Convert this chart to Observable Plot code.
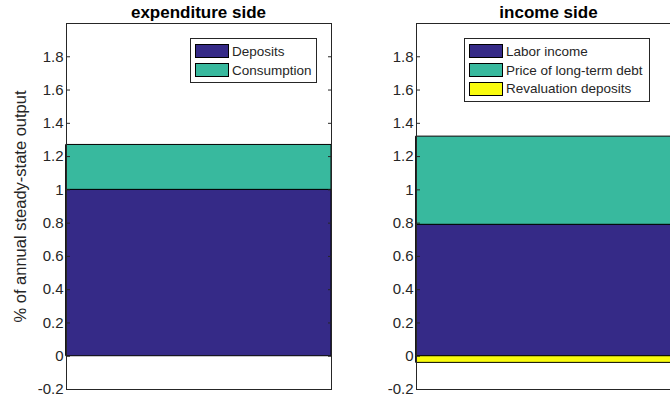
<!DOCTYPE html>
<html>
<head>
<meta charset="utf-8">
<script src="https://cdn.jsdelivr.net/npm/d3@7"></script>
<script src="https://cdn.jsdelivr.net/npm/@observablehq/plot@0.6"></script>
<style>
  html, body { margin: 0; padding: 0; background: #fff; }
  #wrap { position: relative; width: 670px; height: 400px; overflow: hidden; font-family: "Liberation Sans", Arial, Helvetica, sans-serif; color: #262626; }
  .panel { position: absolute; top: 0; width: 340px; height: 400px; }
  .panel svg { max-width: none !important; width: 340px !important; height: 400px !important; }
  .title { position: absolute; top: 3px; font-weight: bold; font-size: 17px; color: #000; text-align: center; white-space: nowrap; }
  .legend { position: absolute; background: #fff; border: 1px solid #262626; box-sizing: border-box; padding: 3px 4px; font-size: 13.5px; }
  .legend .row { display: flex; align-items: center; height: 18.7px; white-space: nowrap; }
  .legend .sw { width: 34px; height: 14px; border: 1px solid #000; box-sizing: border-box; margin-right: 3px; flex: none; }
</style>
</head>
<body>
<div id="wrap"></div>
<script>
// ---- data ----
const periods = [1, 40];
const expSeries = ["Deposits", "Consumption"];
const depositsVals = [1.0, 1.0];
const consumptionVals = [0.27, 0.27];
const incSeries = ["Labor income", "Price of long-term debt", "Revaluation deposits"];
const laborVals = [0.79, 0.79];
const priceVals = [0.53, 0.53];
const revalVals = [-0.04, -0.04];
const seriesColors = ["#352a87", "#38b99e", "#f9fb0e"];
const yTicks = [-0.2, 0, 0.2, 0.4, 0.6, 0.8, 1, 1.2, 1.4, 1.6, 1.8];
const yTickLabels = ["-0.2", "0", "0.2", "0.4", "0.6", "0.8", "1", "1.2", "1.4", "1.6", "1.8"];
const panelTitles = ["expenditure side", "income side"];
const yLabel = "% of annual steady-state output";

function tidy(names, valueArrays) {
  const rows = [];
  names.forEach((name, i) => {
    periods.forEach((p, j) => rows.push({series: name, x: p, value: valueArrays[i][j]}));
  });
  return rows;
}
const expData = tidy(expSeries, [depositsVals, consumptionVals]);
const incData = tidy(incSeries, [laborVals, priceVals, revalVals]);

const W = 340, H = 400;
const M = {left: 66, right: 9, top: 23, bottom: 11};
const tickFmt = d => yTickLabels[yTicks.findIndex(t => Math.abs(t - d) < 1e-9)] ?? "";

function makePanel(data, names, showLabel) {
  return Plot.plot({
    width: W, height: H,
    marginLeft: M.left, marginRight: M.right, marginTop: M.top, marginBottom: M.bottom,
    style: {fontFamily: "'Liberation Sans', Arial, Helvetica, sans-serif", fontSize: "15px", color: "#262626", background: "transparent", maxWidth: "none"},
    x: {domain: [periods[0], periods[periods.length - 1]], axis: null},
    y: {domain: [-0.2, 2.0], ticks: yTicks},
    color: {domain: names, range: seriesColors.slice(0, names.length)},
    marks: [
      Plot.areaY(data, {x: "x", y: "value", fill: "series", z: "series", stroke: "#000", strokeWidth: 1, order: names}),
      Plot.axisY({anchor: "left", ticks: yTicks, tickSize: -4, tickPadding: 7, tickFormat: tickFmt, fontSize: 15,
        stroke: "#262626", fill: "#262626", label: null}),
      ...(showLabel ? [Plot.axisY({anchor: "left", ticks: [], tickSize: 0, label: yLabel, labelAnchor: "center",
        labelArrow: "none", labelOffset: 52, fontSize: 16.5, fill: "#262626"})] : []),
      Plot.axisY({anchor: "right", ticks: yTicks, tickSize: -4, tickFormat: () => "", label: null, stroke: "#262626"}),
      Plot.frame({stroke: "#262626", strokeWidth: 1})
    ]
  });
}

const wrap = document.getElementById("wrap");
const panels = [
  {left: 0, data: expData, names: expSeries, label: true, legend: {left: 190, top: 38, width: 127}},
  {left: 350, data: incData, names: incSeries, label: false, legend: {left: 464, top: 38, width: 186}}
];
panels.forEach((p, i) => {
  const div = document.createElement("div");
  div.className = "panel";
  div.style.left = p.left + "px";
  div.appendChild(makePanel(p.data, p.names, p.label));
  wrap.appendChild(div);

  const t = document.createElement("div");
  t.className = "title";
  t.textContent = panelTitles[i];
  t.style.left = (p.left + M.left) + "px";
  t.style.width = (W - M.left - M.right) + "px";
  wrap.appendChild(t);

  const lg = document.createElement("div");
  lg.className = "legend";
  lg.style.left = p.legend.left + "px";
  lg.style.top = p.legend.top + "px";
  lg.style.width = p.legend.width + "px";
  p.names.forEach((n, k) => {
    const row = document.createElement("div");
    row.className = "row";
    const sw = document.createElement("div");
    sw.className = "sw";
    sw.style.background = seriesColors[k];
    const tx = document.createElement("span");
    tx.textContent = n;
    row.appendChild(sw); row.appendChild(tx);
    lg.appendChild(row);
  });
  wrap.appendChild(lg);
});
</script>
</body>
</html>
